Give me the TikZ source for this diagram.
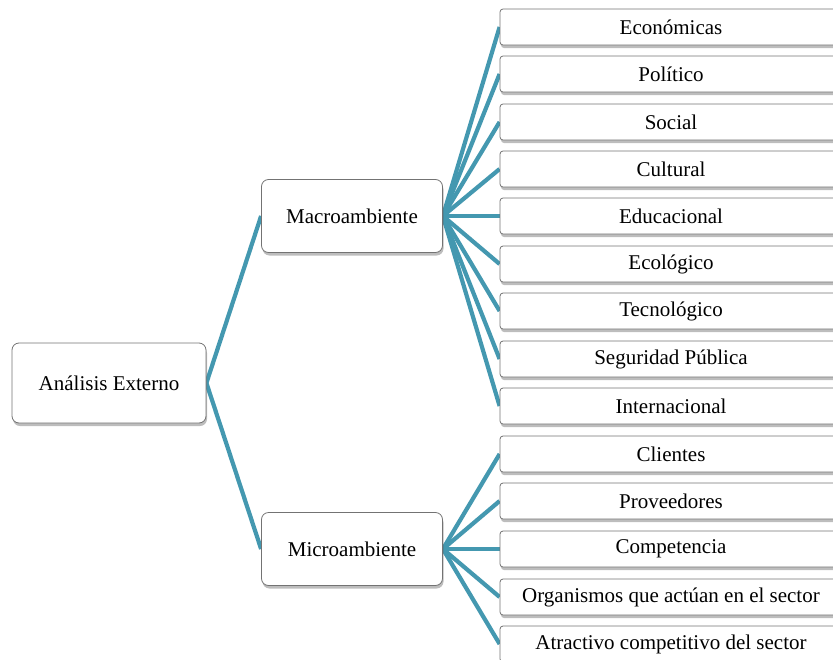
\documentclass[tikz,border=0pt]{standalone}
\usepackage{fontspec}
\setmainfont{Liberation Serif}
\usepackage{xcolor}
\usepackage{tikz}
\usetikzlibrary{shadows, backgrounds}

\definecolor{linkteal}{RGB}{68,152,176}

\begin{document}
\begin{tikzpicture}[x=1pt, y=-1pt,
  box/.style={draw=black!55, fill=white, line width=0.8pt, align=center,
    font=\fontsize{21}{25}\selectfont,
    drop shadow={shadow xshift=1pt, shadow yshift=-3pt, opacity=0.4, fill=black!65}},
  mainbox/.style={box, rounded corners=7pt, minimum width=194pt, minimum height=80pt},
  midbox/.style={box, rounded corners=7pt, minimum width=181pt, minimum height=73pt},
  leafbox/.style={box, rounded corners=3pt, minimum width=342pt, minimum height=36pt},
  link/.style={linkteal, line width=4.2pt}]
\clip (0,0) rectangle (833,659);
% --- root and the two branches ---
\node[mainbox] (root) at (109,383) {Análisis Externo};
\node[midbox] (macro) at (352,216) {Macroambiente};
\node[midbox] (micro) at (352,549) {Microambiente};
% --- macroambiente factors ---
\node[leafbox] (eco) at (671,27) {Económicas};
\node[leafbox] (pol) at (671,74) {Político};
\node[leafbox] (soc) at (671,122) {Social};
\node[leafbox] (cul) at (671,169) {Cultural};
\node[leafbox] (edu) at (671,216) {Educacional};
\node[leafbox] (ecol) at (671,264) {Ecológico};
\node[leafbox] (tec) at (671,311) {Tecnológico};
\node[leafbox] (seg) at (671,359) {Seguridad Pública};
\node[leafbox] (inter) at (671,406) {Internacional};
% --- microambiente factors ---
\node[leafbox] (cli) at (671,454) {Clientes};
\node[leafbox] (prov) at (671,501) {Proveedores};
\node[leafbox] (comp) at (671,549) {Competencia};
\node[leafbox] (org) at (671,597) {Organismos que actúan en el sector};
\node[leafbox] (atr) at (671,644) {Atractivo competitivo del sector};
% --- connectors behind the boxes ---
\begin{scope}[on background layer]
\draw[link] (root.east) -- (macro.west);
\draw[link] (root.east) -- (micro.west);
\foreach \leaf in {eco,pol,soc,cul,edu,ecol,tec,seg,inter}
  \draw[link] (macro.east) -- (\leaf.west);
\foreach \leaf in {cli,prov,comp,org,atr}
  \draw[link] (micro.east) -- (\leaf.west);
\end{scope}
\end{tikzpicture}
\end{document}
